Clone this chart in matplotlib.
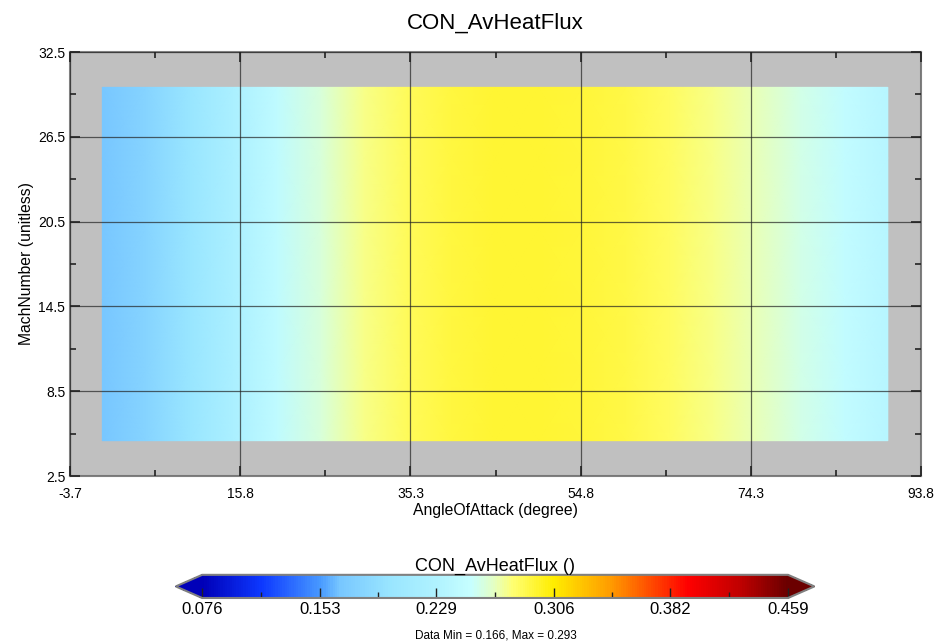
import matplotlib
matplotlib.use('Agg')
import matplotlib.pyplot as plt
from matplotlib.colors import LinearSegmentedColormap, Normalize
from matplotlib.ticker import FixedLocator
import numpy as np

plt.rcParams['font.family'] = ['Liberation Sans', 'DejaVu Sans']

# data (value varies with angle only)
angle = [0, 5, 10, 15, 20, 25, 30, 35, 40, 45, 50, 55, 60, 65, 70, 75, 80, 85, 90]
heat = [0.166, 0.180, 0.200, 0.224, 0.244, 0.261, 0.275, 0.284, 0.290, 0.293,
        0.293, 0.292, 0.289, 0.283, 0.276, 0.268, 0.258, 0.247, 0.237]
mach = [5, 10, 15, 20, 25, 30]

x_ticks = [-3.7, 15.8, 35.3, 54.8, 74.3, 93.8]
y_ticks = [2.5, 8.5, 14.5, 20.5, 26.5, 32.5]
cb_ticks = [0.076, 0.153, 0.229, 0.306, 0.382, 0.459]
vmin, vmax = 0.076, 0.459

stops = [
    (0.00, (0.00, 0.00, 0.72)),
    (0.10, (0.05, 0.22, 1.00)),
    (0.20, (0.28, 0.60, 1.00)),
    (0.235, (0.47, 0.78, 1.00)),
    (0.32, (0.60, 0.90, 1.00)),
    (0.40, (0.69, 0.95, 1.00)),
    (0.46, (0.78, 1.00, 1.00)),
    (0.50, (0.90, 1.00, 0.75)),
    (0.53, (1.00, 1.00, 0.45)),
    (0.60, (1.00, 0.93, 0.00)),
    (0.70, (1.00, 0.60, 0.00)),
    (0.83, (1.00, 0.00, 0.00)),
    (0.92, (0.75, 0.00, 0.00)),
    (1.00, (0.42, 0.00, 0.00)),
]
cmap = LinearSegmentedColormap.from_list('hotcold', stops)
cmap.set_under(stops[0][1])
cmap.set_over(stops[-1][1])
norm = Normalize(vmin, vmax)

def mids(t):
    return [(a + b) / 2 for a, b in zip(t[:-1], t[1:])]

fig = plt.figure(figsize=(9.35, 6.43), dpi=100)
ax = fig.add_axes([0.0749, 0.2597, 0.9101, 0.6594])
ax.set_facecolor('#c0c0c0')

X, Y = np.meshgrid(angle, mach)
Z = np.tile(heat, (len(mach), 1))
mesh = ax.pcolormesh(X, Y, Z, cmap=cmap, norm=norm, shading='gouraud', zorder=1)

ax.set_xlim(x_ticks[0], x_ticks[-1])
ax.set_ylim(y_ticks[0], y_ticks[-1])
ax.xaxis.set_major_locator(FixedLocator(x_ticks))
ax.yaxis.set_major_locator(FixedLocator(y_ticks))
ax.xaxis.set_minor_locator(FixedLocator(mids(x_ticks)))
ax.yaxis.set_minor_locator(FixedLocator(mids(y_ticks)))
ax.set_xticklabels([str(t) for t in x_ticks])
ax.set_yticklabels([str(t) for t in y_ticks])
ax.tick_params(which='both', direction='in', top=True, right=True, labelsize=10,
               color='#222222', width=1.2)
ax.tick_params(which='major', length=7)
ax.tick_params(which='minor', length=4)
ax.tick_params(axis='x', which='major', pad=8)
ax.tick_params(axis='y', which='major', pad=3.5)
ax.grid(True, which='major', color='#222222', lw=0.9, alpha=0.7, zorder=2)
ax.set_axisbelow(False)
for s in ax.spines.values():
    s.set_color('#808080')
    s.set_linewidth(1.5)

ax.set_title('CON_AvHeatFlux', fontsize=16, pad=17)
ax.set_xlabel('AngleOfAttack (degree)', fontsize=11.3, labelpad=1)
ax.set_ylabel('MachNumber (unitless)', fontsize=11.3, labelpad=3)

cax = fig.add_axes([0.188, 0.070, 0.683, 0.036])
cb = fig.colorbar(mesh, cax=cax, orientation='horizontal', extend='both', extendfrac=0.045)
cb.set_ticks(cb_ticks)
cb.set_ticklabels(['%.3f' % t for t in cb_ticks])
cb.ax.xaxis.set_minor_locator(FixedLocator(mids(cb_ticks)))
cb.ax.tick_params(which='both', direction='in', labelsize=12, color='#222222', width=1.0, pad=3)
cb.ax.tick_params(which='major', length=7)
cb.ax.tick_params(which='minor', length=4)
cb.outline.set_edgecolor('#808080')
cb.outline.set_linewidth(1.5)
cb.ax.set_title('CON_AvHeatFlux ()', fontsize=13, pad=3)

fig.text(0.53, 0.003, 'Data Min = %.3f, Max = %.3f' % (min(heat), max(heat)),
         ha='center', va='bottom', fontsize=8.5)

fig.savefig('out.png', dpi=100)
